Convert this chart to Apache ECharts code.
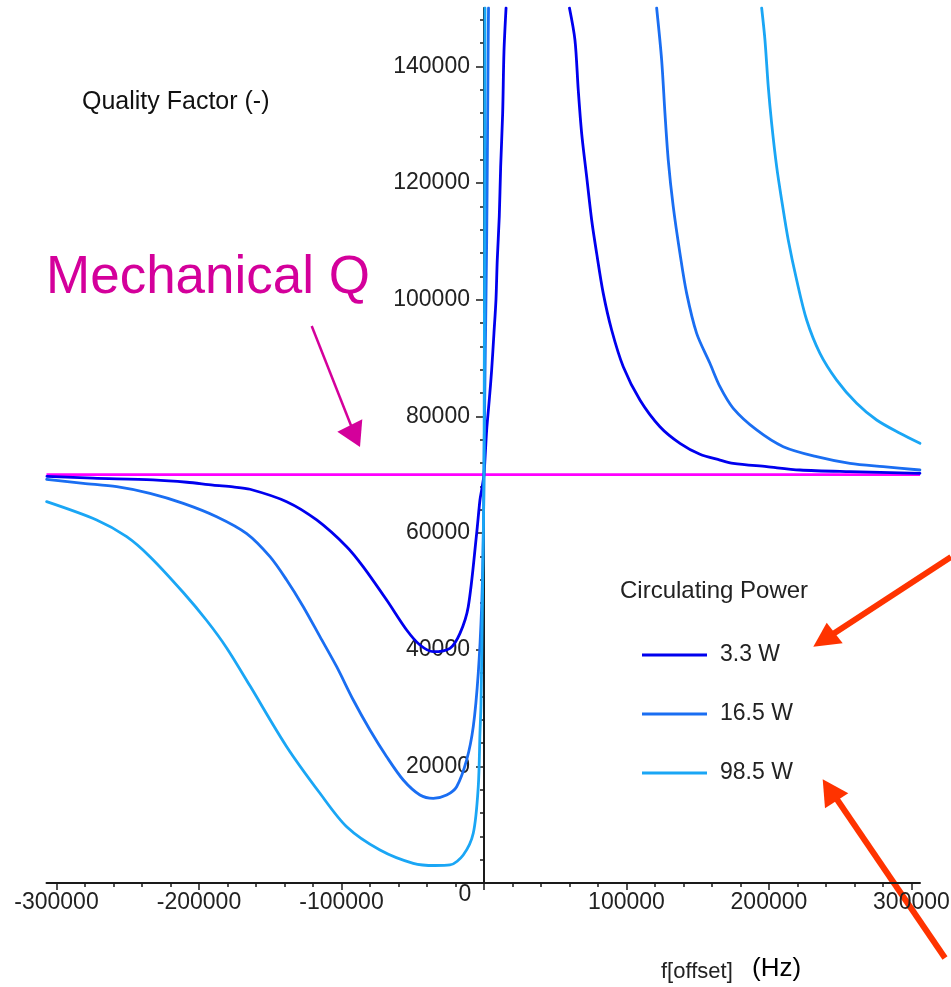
<!DOCTYPE html>
<html>
<head>
<meta charset="utf-8">
<script src="https://cdn.jsdelivr.net/npm/echarts@6/dist/echarts.min.js"></script>
<style>
html,body{margin:0;padding:0;background:#fff;}
#chart{width:951px;height:987px;}
</style>
</head>
<body>
<div id="chart"></div>
<script>
// ---- data ----
const xMajorTicks = [-300000, -200000, -100000, 0, 100000, 200000, 300000];
const xMinorTicks = [-280000,-260000,-240000,-220000,-180000,-160000,-140000,-120000,-80000,-60000,-40000,-20000,
                     20000,40000,60000,80000,120000,140000,160000,180000,220000,240000,260000,280000];
const yMajorTicks = [0, 20000, 40000, 60000, 80000, 100000, 120000, 140000];
const yLabelTicks = [20000, 40000, 60000, 80000, 100000, 120000, 140000];
const yMinorTicks = [4000,8000,12000,16000,24000,28000,32000,36000,44000,48000,52000,56000,64000,68000,72000,76000,
                     84000,88000,92000,96000,104000,108000,112000,116000,124000,128000,132000,136000,144000,148000];

const seriesNames = ['3.3 W', '16.5 W', '98.5 W'];
const mechanicalQ = 70000;
const xRange = [-307000, 306000];
const yRange = [0, 150000];

// 3.3 W circulating power
const q3_3 = [
  [-306700, 69700], [-274400, 69400], [-232300, 69100], [-208400, 68700], [-190200, 68200],
  [-176100, 67900], [-164200, 67500], [-138460, 65370], [-117400, 62230], [-96350, 57650],
  [-84700, 54200], [-68280, 48510], [-54250, 43370], [-44910, 40800], [-35580, 39650],
  [-23860, 40230], [-16840, 42800], [-11020, 47370], [-5120, 59950], [-2810, 65660],
  [-1610, 67370], [0, 70000],
  [1900, 77650], [3720, 82800], [5400, 87940], [7020, 94290], [8420, 99940], [9330, 106800],
  [10740, 114230], [11720, 122800], [13120, 131940], [14040, 142510], [15500, 150000],
  [15800, null],
  [60000, 150000], [63860, 144510], [66170, 135940], [68560, 128510], [72070, 121080],
  [75580, 113660], [79090, 107940], [83720, 101080], [89610, 94800], [97750, 88510],
  [109470, 82800], [123500, 78220], [137540, 75370], [151580, 73500], [165610, 72510],
  [174950, 71940], [198380, 71370], [221750, 70800], [256840, 70510], [305960, 70230]
];

// 16.5 W circulating power
const q16_5 = [
  [-306900, 69200], [-281200, 68510], [-257750, 67940], [-234390, 66800], [-211020, 65090],
  [-187580, 62800], [-166500, 59900], [-150170, 55940], [-138460, 51940], [-126810, 47370],
  [-115090, 42230], [-103370, 37080], [-91720, 31370], [-80000, 26230], [-68280, 21650],
  [-56630, 17660], [-44910, 15090], [-35580, 14520], [-26180, 15090], [-19160, 16510],
  [-12140, 21090], [-7510, 26800], [-4000, 35950], [-1610, 47370], [-490, 58800], [0, 70000],
  [500, 82000], [1000, 92000], [1900, 110000], [2500, 128000], [3000, 145000], [3200, 150000],
  [3400, null],
  [121190, 150000], [124700, 141080], [127020, 131940], [129330, 123940], [132840, 115940],
  [137540, 107940], [142250, 101080], [149260, 94230], [158560, 89100], [165610, 85080],
  [174950, 81370], [191370, 77660], [210040, 74800], [233470, 73080], [256840, 71940],
  [280210, 71370], [305960, 70800]
];

// 98.5 W circulating power
const q98_5 = [
  [-306900, 65370], [-271800, 62230], [-250740, 59370], [-234390, 55940], [-211020, 49800],
  [-194600, 45000], [-180560, 40300], [-164210, 33800], [-138460, 23370], [-115090, 15380],
  [-96350, 9650], [-72980, 5660], [-49610, 3380], [-34390, 3000], [-23860, 3090],
  [-14530, 4800], [-7510, 8520], [-4000, 16500], [-2810, 25660], [-2100, 30500],
  [-1400, 42000], [-700, 55000], [0, 70000],
  [200, 85000], [400, 105000], [600, 130000], [700, 150000],
  [800, null],
  [194880, 150000], [197200, 144510], [199510, 136510], [201890, 130230], [205400, 122800],
  [208910, 117090], [213540, 110230], [219440, 103370], [226460, 96510], [235790, 90800],
  [247510, 86220], [261540, 82230], [275580, 79370], [291930, 77090], [305960, 75370]
];

const seriesData = [q3_3, q16_5, q98_5];
const seriesColors = ['#0000ee', '#1a6ef2', '#1aa6f5'];

// ---- chart ----
const FONT = "'Liberation Sans', Arial, sans-serif";
const chart = echarts.init(document.getElementById('chart'), null, {renderer: 'canvas'});

const GRID = {left: 46.5, right: 31, top: 8, bottom: 104};
const chartWidth = 951;
// pixel distance from the grid's left edge to x = 0 (used only to shift the label-only axis)
const zeroOffset = (0 - xRange[0]) / (xRange[1] - xRange[0]) * (chartWidth - GRID.left - GRID.right);

const series = [{
  name: 'Mechanical Q',
  type: 'line',
  data: [[xRange[0], mechanicalQ], [xRange[1], mechanicalQ]],
  showSymbol: false,
  lineStyle: {color: '#ff00ff', width: 2.6},
  itemStyle: {color: '#ff00ff'},
  z: 1,
  silent: true
}];
seriesNames.forEach((n, i) => {
  series.push({
    name: n,
    type: 'line',
    data: seriesData[i],
    showSymbol: false,
    connectNulls: false,
    smooth: 0.3,
    lineStyle: {color: seriesColors[i], width: 2.8, join: 'round', cap: 'round'},
    itemStyle: {color: seriesColors[i]},
    z: 2 + i
  });
});

const axisColor = '#1a1a1a';
const option = {
  animation: false,
  backgroundColor: '#fff',
  grid: Object.assign({containLabel: false, outerBoundsMode: 'none'}, GRID),
  xAxis: [{
    type: 'value', min: xRange[0], max: xRange[1], position: 'bottom',
    splitNumber: 6,
    axisLine: {show: true, onZero: true, onZeroAxisIndex: 0, lineStyle: {color: axisColor, width: 2}},
    axisTick: {show: true, length: 7, customValues: xMajorTicks, lineStyle: {color: axisColor, width: 1.5}},
    axisLabel: {
      show: true, customValues: xMajorTicks, margin: 0,
      color: '#222', fontSize: 23, fontFamily: FONT,
      formatter: v => v === 0 ? '{z|0}' : '{n|' + String(v) + '}',
      rich: {
        n: {padding: [8, 0, 0, 0], fontSize: 23, fontFamily: FONT, color: '#222'},
        z: {padding: [0, 38, 0, 0], fontSize: 23, fontFamily: FONT, color: '#222'}
      }
    },
    splitLine: {show: false}
  }, {
    type: 'value', min: xRange[0], max: xRange[1], position: 'bottom',
    splitNumber: 6,
    axisLine: {show: true, onZero: true, onZeroAxisIndex: 0, lineStyle: {opacity: 0}},
    axisTick: {show: true, length: 4, customValues: xMinorTicks, lineStyle: {color: axisColor, width: 1.5}},
    axisLabel: {show: false},
    splitLine: {show: false}
  }],
  yAxis: [{
    type: 'value', min: yRange[0], max: yRange[1], interval: 20000, position: 'left',
    axisLine: {show: true, onZero: true, onZeroAxisIndex: 0, lineStyle: {color: axisColor, width: 2}},
    axisTick: {show: true, length: 8, customValues: yMajorTicks, lineStyle: {color: axisColor, width: 1.5}},
    axisLabel: {show: false},
    splitLine: {show: false}
  }, {
    type: 'value', min: yRange[0], max: yRange[1], interval: 20000, position: 'left',
    axisLine: {show: true, onZero: true, onZeroAxisIndex: 0, lineStyle: {opacity: 0}},
    axisTick: {show: true, length: 4, customValues: yMinorTicks, lineStyle: {color: axisColor, width: 1.5}},
    axisLabel: {show: false},
    splitLine: {show: false}
  }, {
    // label-only axis, shifted onto x = 0
    type: 'value', min: yRange[0], max: yRange[1], interval: 20000, position: 'left',
    offset: -zeroOffset,
    axisLine: {show: false, onZero: false},
    axisTick: {show: false},
    axisLabel: {show: true, customValues: yLabelTicks, margin: 14, color: '#222', fontSize: 23, fontFamily: FONT,
                formatter: v => String(v)},
    splitLine: {show: false}
  }],
  legend: {
    show: true, orient: 'vertical', left: 642, top: 643, padding: 0,
    data: seriesNames, icon: 'rect', itemWidth: 65, itemHeight: 3, itemGap: 35,
    textStyle: {fontSize: 23, fontFamily: FONT, color: '#222', lineHeight: 24, padding: [0, 0, 0, 8]},
    selectedMode: false
  },
  graphic: [
    {type: 'text', x: 82, y: 102, style: {text: 'Quality Factor (-)', font: '25px ' + FONT, fill: '#111', verticalAlign: 'middle', align: 'left'}},
    {type: 'text', x: 46, y: 278.6, style: {text: 'Mechanical Q', font: '53px ' + FONT, fill: '#d4009b', verticalAlign: 'middle', align: 'left'}},
    {type: 'text', x: 620, y: 591, style: {text: 'Circulating Power', font: '24px ' + FONT, fill: '#222', verticalAlign: 'middle', align: 'left'}},
    {type: 'text', x: 661, y: 972, style: {text: 'f[offset]', font: '22px ' + FONT, fill: '#222', verticalAlign: 'middle', align: 'left'}},
    {type: 'text', x: 752, y: 969, style: {text: '(Hz)', font: '26px ' + FONT, fill: '#000', verticalAlign: 'middle', align: 'left'}},
    // magenta arrow
    {type: 'line', shape: {x1: 311.7, y1: 326, x2: 352, y2: 428}, style: {stroke: '#d4009b', lineWidth: 2.5}},
    {type: 'polygon', shape: {points: [[360, 447], [337.3, 431.7], [362.3, 419.3]]}, style: {fill: '#d4009b'}},
    // red arrows
    {type: 'line', shape: {x1: 951, y1: 557, x2: 830, y2: 636}, style: {stroke: '#ff3300', lineWidth: 6}},
    {type: 'polygon', shape: {points: [[813.3, 646.7], [826.7, 622.7], [842.7, 643.3]]}, style: {fill: '#ff3300'}},
    {type: 'line', shape: {x1: 945, y1: 958, x2: 834, y2: 795}, style: {stroke: '#ff3300', lineWidth: 6}},
    {type: 'polygon', shape: {points: [[822.7, 779.3], [825, 808.3], [848.3, 793.3]]}, style: {fill: '#ff3300'}}
  ],
  series: series
};
chart.setOption(option);
</script>
</body>
</html>
